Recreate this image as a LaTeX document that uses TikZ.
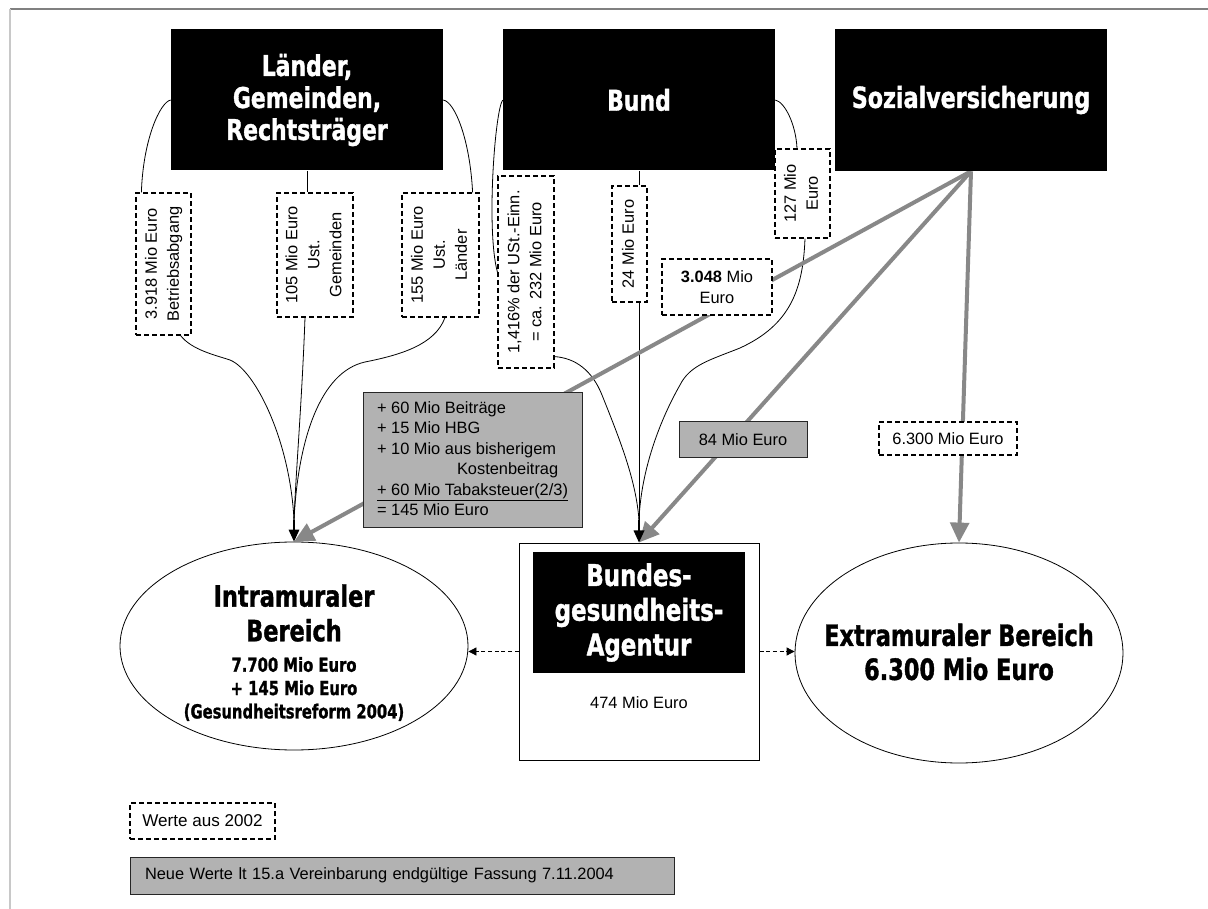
\documentclass[tikz,border=0pt]{standalone}
\usepackage{graphicx}
\usepackage{fontspec}
\setmainfont{Liberation Sans}
\newfontfamily\impact[FakeStretch=0.85,FakeBold=1.2]{DejaVu Sans Condensed Bold}
\usetikzlibrary{arrows.meta,calc,shapes.geometric}
\pgfdeclarelayer{bg}
\pgfsetlayers{bg,main}
\definecolor{garrow}{RGB}{136,136,136}
\definecolor{gfill}{RGB}{178,178,178}
\definecolor{topline}{RGB}{128,128,128}
\definecolor{leftline}{RGB}{200,200,200}
\newcommand\lab{\fontsize{12.3}{15.4}\selectfont}
\newcommand\rlab[1]{\rotatebox{90}{\fontsize{12.3}{16.5}\selectfont\begin{tabular}{@{}c@{}}#1\end{tabular}}}
\newcommand\titlefont[2]{\impact\fontsize{#1}{#2}\selectfont}
\begin{document}
\begin{tikzpicture}[x=0.75pt,y=-0.75pt,
  blk/.style={fill=black, text=white, inner sep=0pt, align=center},
  dbox/.style={draw=black, fill=white, line width=0.9pt, dash pattern=on 3.6pt off 2.4pt, inner sep=0pt, align=center, font=\lab},
  gbox/.style={draw=black!85, fill=gfill, line width=0.75pt, inner sep=0pt, align=center, font=\lab},
  sz/.style 2 args={minimum width={#1*0.75pt}, minimum height={#2*0.75pt}},
  crv/.style={line width=0.6pt, black},
  garr/.style={draw=garrow, line width=3pt, -{Triangle[length=15pt,width=14pt]}},
  barr/.style={line width=0.9pt, -{Triangle[length=9pt,width=8pt]}},
  darr/.style={line width=0.6pt, dash pattern=on 3pt off 2pt, -{Triangle[length=6pt,width=6pt]}},
  ell/.style={draw, ellipse, line width=0.6pt, inner sep=0pt, fill=white}]
\useasboundingbox (0,0) rectangle (1208,909);
\begin{pgfonlayer}{bg}
\fill[white] (0,0) rectangle (1208,909);
\end{pgfonlayer}
\coordinate (tl) at (10,9);
\coordinate (tr) at (1208,9);
\coordinate (bl) at (10,909);
\draw[topline, line width=0.9pt] (tl) -- (tr);
\draw[leftline, line width=0.9pt] (tl) -- (bl);

% top sources
\node[blk, sz={272}{141}, font=\titlefont{21.5}{24}] (laender) at (307,100) {Länder,\\Gemeinden,\\Rechtsträger};
\node[blk, sz={272}{141}, font=\titlefont{21.5}{24}] (bund) at (639,100) {Bund};
\node[blk, sz={272}{142}, font=\titlefont{21.8}{24}] (sv) at (971,100) {Sozialversicherung};

% dashed value boxes
\node[dbox, sz={55}{142}] (l1) at (163.5,264) {\rlab{3.918 Mio Euro\\Betriebsabgang}};
\node[dbox, sz={76}{124}] (l2) at (315,255) {\rlab{105 Mio Euro\\Ust.\\Gemeinden}};
\node[dbox, sz={77}{124}] (l3) at (440.5,255) {\rlab{155 Mio Euro\\Ust.\\Länder}};
\node[dbox, sz={56}{192}] (b1) at (526,272) {\rlab{1,416\% der USt.-Einn.\\= ca. 232 Mio Euro}};
\node[dbox, sz={35}{116}] (b2) at (629.5,244) {\rlab{24 Mio Euro}};
\node[dbox, sz={55}{89}] (b3) at (802.5,193.5) {\rlab{127 Mio\\Euro}};
\node[dbox, sz={110}{56}] (c1) at (717,287) {\textbf{3.048} Mio\\Euro};
\node[dbox, sz={138}{33}] (c2) at (948,438.5) {6.300 Mio Euro};

% grey boxes
\node[gbox, sz={219}{135}] (g1) at (472.5,460.5) {\begin{tabular}{@{}l@{}}+ 60 Mio Beiträge\\+ 15 Mio HBG\\+ 10 Mio aus bisherigem\\\hspace*{60pt}Kostenbeitrag\\\underline{+ 60 Mio Tabaksteuer(2/3)}\\= 145 Mio Euro\end{tabular}};
\node[gbox, sz={128}{36}] (g2) at (743,440) {84 Mio Euro};

% agentur
\node[draw, fill=white, line width=0.75pt, sz={240}{217}] (ag) at (639,651.5) {};
\node[blk, sz={212}{121}, font=\titlefont{22.5}{26}] (agin) at (639,612.5) {Bundes-\\gesundheits-\\Agentur};
\node[font=\lab] (agv) at (639,703) {474 Mio Euro};

% ellipses
\node[ell, sz={348}{208}] (intra) at (294,646) {};
\node[ell, sz={328}{220}] (extra) at (959,653) {};
\node[font=\titlefont{22}{26}, align=center] (intraT) at (294,613) {Intramuraler\\Bereich};
\node[font=\titlefont{14.5}{17.5}, align=center] (intraV) at (294,689) {7.700 Mio Euro\\+ 145 Mio Euro\\(Gesundheitsreform 2004)};
\node[font=\titlefont{22}{25.5}, align=center] (extraT) at (959,652) {Extramuraler Bereich\\6.300 Mio Euro};

% legend
\node[dbox, sz={145}{36}, font=\fontsize{12.8}{15}\selectfont] (leg1) at (202.5,821) {Werte aus 2002};
\node[gbox, sz={544}{37}, text width={514*0.75pt}, align=left] (leg2) at (402,875.5) {Neue Werte lt 15.a Vereinbarung endgültige Fassung 7.11.2004};

\coordinate (jl) at (294,520);
\coordinate (jb) at (639,520);

\begin{pgfonlayer}{bg}
% Laender connectors
\draw[crv] (laender.west) .. controls (160,102) and (143,140) .. ($(l1.north west)+(6,0)$);
\draw[crv] ($(l1.south east)+(-11,0)$) .. controls (192,350) and (215,355) .. (230,360) .. controls (255,370) and (290,440) .. (jl);
\draw[crv] (laender.south) -- (laender.south |- l2.north);
\draw[crv] ($(l2.south)+(-10,0)$) .. controls (302,400) and (296,470) .. (jl);
\draw[crv] (laender.east) .. controls (455,102) and (470,140) .. ($(l3.north east)+(-7,0)$);
\draw[crv] ($(l3.south)+(4.5,0)$) .. controls (435,345) and (400,355) .. (365,362) .. controls (320,372) and (298,440) .. (jl);
% Bund connectors
\draw[crv] (bund.west) .. controls (495,110) and (486,230) .. (b1.west);
\draw[crv] ($(b1.south east)+(0,-12)$) .. controls (575,358) and (592,370) .. (602,395) .. controls (620,440) and (636,480) .. (jb);
\draw[crv] (bund.south) -- (bund.south |- b2.north);
\draw[crv] (bund.south |- b2.south) -- (jb);
\draw[crv] (bund.east) .. controls (785,102) and (796,125) .. ($(b3.north)+(-5.5,0)$);
\draw[crv] ($(b3.south)+(2.5,0)$) .. controls (803,290) and (790,325) .. (740,348) .. controls (710,360) and (690,365) .. (680,385) .. controls (660,420) and (641,470) .. (jb);
% grey flows
\draw[garr] (sv.south) -- (intra.north);
\draw[garr] (sv.south) -- (ag.north);
\draw[garr] (sv.south) -- (extra.north);
\end{pgfonlayer}

\draw[barr] (jl) -- (intra.north);
\draw[barr] (jb) -- (ag.north);
\draw[darr] (ag.west) -- (ag.west -| intra.east);
\draw[darr] (ag.east) -- (ag.east -| extra.west);
\end{tikzpicture}
\end{document}
